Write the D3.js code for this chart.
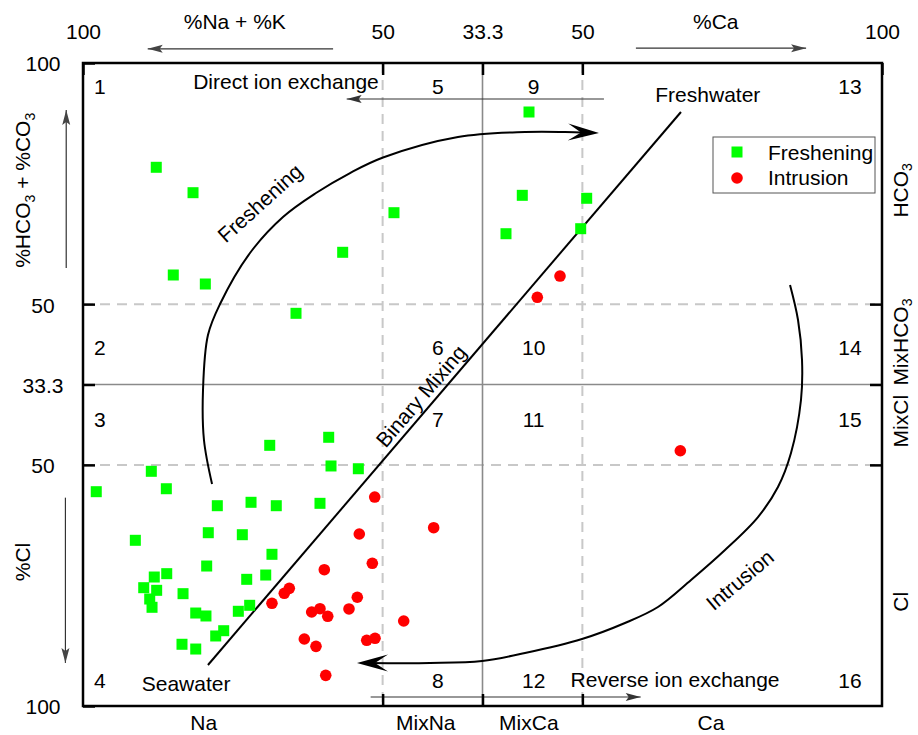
<!DOCTYPE html>
<html>
<head>
  <meta charset="UTF-8">
  <title>Hydrochemical facies evolution diagram</title>
  <script src="https://d3js.org/d3.v7.min.js"></script>
  <style>
    body { margin: 0; background: #fff; }
    svg { font-family: "Liberation Sans", Arial, sans-serif; font-size: 21px; }
    .grid-dash { stroke: #c8c8c8; stroke-width: 2; stroke-dasharray: 10,7; }
    .grid-solid { stroke: #8a8a8a; stroke-width: 1.6; }
    .axis .domain { display: none; }
    .axis line { stroke: #000; stroke-width: 2.5; }
    .axis text { font-size: 21px; fill: #000; font-family: "Liberation Sans", Arial, sans-serif; }
    .curve { fill: none; stroke: #000; stroke-width: 2; }
    .thin { stroke: #333; stroke-width: 1.2; fill: none; }
  </style>
</head>
<body>
  <svg width="918" height="735"></svg>

  <script>
    // diagram units: 0..100 on both axes, zone borders at 37.5 / 50 / 62.5
    const tickVals = [0, 37.5, 50, 62.5, 100];
    const topTickLabels = ["100", "50", "33.3", "50", "100"];
    const leftTickLabels = ["100", "50", "33.3", "50", "100"];
    const bottomCats = ["Na", "MixNa", "MixCa", "Ca"];
    const bottomCatAt = [15.1, 42.9, 55.8, 78.6];
    const rightCats = [["HCO", "3"], ["MixHCO", "3"], ["MixCl", ""], ["Cl", ""]];
    const rightCatAt = [80.2, 56.6, 44.3, 16.2];
    const zoneCol = [2.1, 44.4, 56.4, 96.0];
    const zoneRow = [96.3, 55.8, 44.5, 4.0];

    const freshening = [
      [9.17, 83.78], [13.77, 79.83], [11.30, 67.03], [15.31, 65.63], [32.50, 70.56],
      [38.92, 76.72], [26.66, 61.07], [30.75, 41.79], [23.37, 40.54], [31.04, 37.33],
      [34.46, 36.90], [8.55, 36.50], [1.66, 33.33], [10.43, 33.79], [16.81, 31.15],
      [21.03, 31.68], [24.19, 31.15], [29.66, 31.52], [6.55, 25.77], [15.68, 26.95],
      [19.94, 26.64], [23.65, 23.59], [15.48, 21.77], [8.92, 20.06], [10.48, 20.58],
      [22.87, 20.37], [20.49, 19.70], [7.60, 18.40], [9.22, 17.99], [8.35, 16.64],
      [8.64, 15.35], [12.52, 17.47], [14.11, 14.46], [15.39, 14.00], [19.44, 14.73],
      [20.86, 15.66], [17.61, 11.71], [16.61, 10.89], [12.39, 9.60], [14.11, 8.86],
      [55.82, 92.38], [54.98, 79.42], [63.04, 78.96], [52.94, 73.45], [62.29, 74.23]
    ];
    const intrusion = [
      [36.51, 32.50], [34.58, 26.75], [36.21, 22.19], [30.20, 21.20], [25.82, 18.30],
      [25.19, 17.53], [23.65, 15.97], [28.62, 14.62], [29.66, 15.13], [30.63, 13.95],
      [33.29, 15.09], [34.33, 16.91], [27.70, 10.42], [29.16, 9.28], [35.51, 10.22],
      [36.55, 10.53], [30.38, 4.77], [43.89, 27.73], [40.14, 13.22], [59.70, 66.87],
      [56.86, 63.56], [74.76, 39.70]
    ];

    const mixingLine = [[15.64, 6.38], [74.84, 92.38]];
    const fresheningPath = [
      [16.15, 34.53], [15.14, 41.37], [15.02, 49.14], [15.64, 57.70], [17.15, 62.52],
      [20.90, 70.45], [25.03, 76.05], [29.16, 79.78], [33.42, 82.89], [37.55, 85.30],
      [46.93, 88.49], [55.32, 89.27], [60.33, 89.27], [64.58, 89.11]
    ];
    const intrusionPath = [
      [88.49, 65.47], [89.49, 60.03], [89.99, 53.81], [89.86, 47.59], [88.61, 39.35],
      [86.98, 34.06], [84.48, 29.39], [80.35, 24.26], [76.10, 19.60], [71.96, 15.40],
      [67.83, 12.91], [62.45, 10.42], [55.32, 8.24], [49.94, 7.00], [43.43, 6.69],
      [34.29, 6.69]
    ];
    const directArrow = [[65.2, 94.4], [33.0, 94.4]];
    const reverseArrow = [[36.0, 1.4], [69.8, 1.4]];

    const svg = d3.select("svg");
    const margin = { top: 63, right: 36, bottom: 29, left: 83 };
    const width = +svg.attr("width") - margin.left - margin.right;
    const height = +svg.attr("height") - margin.top - margin.bottom;

    const x = d3.scaleLinear().domain([0, 100]).range([0, width]);
    const y = d3.scaleLinear().domain([0, 100]).range([height, 0]);

    const g = svg.append("g")
      .attr("transform", `translate(${margin.left},${margin.top})`);

    // zone grid
    [37.5, 62.5].forEach(v => {
      g.append("line").attr("class", "grid-dash")
        .attr("x1", x(v)).attr("x2", x(v)).attr("y1", 0).attr("y2", height);
      g.append("line").attr("class", "grid-dash")
        .attr("x1", 0).attr("x2", width).attr("y1", y(v)).attr("y2", y(v));
    });
    g.append("line").attr("class", "grid-solid")
      .attr("x1", x(50)).attr("x2", x(50)).attr("y1", 0).attr("y2", height);
    g.append("line").attr("class", "grid-solid")
      .attr("x1", 0).attr("x2", width).attr("y1", y(50)).attr("y2", y(50));

    function head(px, py, ang, len, hw, notch, color) {
      g.append("path")
        .attr("d", `M0,0L${-len},${-hw}L${-len + notch},0L${-len},${hw}Z`)
        .attr("fill", color)
        .attr("transform", `translate(${px},${py}) rotate(${ang})`);
    }
    function endAngle(pts) {
      const a = pts[pts.length - 2], b = pts[pts.length - 1];
      return Math.atan2(y(b[1]) - y(a[1]), x(b[0]) - x(a[0])) * 180 / Math.PI;
    }
    function thinArrow(pts, color) {
      g.append("line").attr("class", "thin").attr("stroke", color)
        .attr("x1", x(pts[0][0])).attr("y1", y(pts[0][1]))
        .attr("x2", x(pts[1][0])).attr("y2", y(pts[1][1]));
      const last = pts[1];
      head(x(last[0]), y(last[1]), endAngle(pts), 15, 4, 3, color);
    }

    const line = d3.line().x(d => x(d[0])).y(d => y(d[1]));

    g.append("path").attr("class", "curve").attr("d", line(mixingLine));
    [fresheningPath, intrusionPath].forEach(p => {
      // stop the stroke a little short of the tip so the head stays sharp
      const last = p[p.length - 1];
      const ang = endAngle(p);
      const rad = ang * Math.PI / 180;
      const sx = x(last[0]) - 12 * Math.cos(rad), sy = y(last[1]) - 12 * Math.sin(rad);
      const pts = p.slice(0, -1).map(d => [x(d[0]), y(d[1])]);
      pts.push([sx, sy]);
      g.append("path").attr("class", "curve")
        .attr("d", d3.line().curve(d3.curveCatmullRom.alpha(0.5))(pts));
      head(x(last[0]), y(last[1]), ang, 31, 8.5, 13, "#000");
    });

    thinArrow(directArrow, "#333");
    thinArrow(reverseArrow, "#333");

    // points
    g.selectAll(".fresh")
      .data(freshening)
      .enter()
      .append("rect")
      .attr("class", "fresh")
      .attr("x", d => x(d[0]) - 5.5)
      .attr("y", d => y(d[1]) - 5.5)
      .attr("width", 11)
      .attr("height", 11)
      .attr("fill", "#00ff00");

    g.selectAll(".intr")
      .data(intrusion)
      .enter()
      .append("circle")
      .attr("class", "intr")
      .attr("cx", d => x(d[0]))
      .attr("cy", d => y(d[1]))
      .attr("r", 5.8)
      .attr("fill", "#ff0000");

    // frame + axes
    g.append("rect")
      .attr("width", width).attr("height", height)
      .attr("fill", "none").attr("stroke", "#000").attr("stroke-width", 2.5);

    g.append("g").attr("class", "axis")
      .call(d3.axisTop(x).tickValues(tickVals)
        .tickFormat((d, i) => topTickLabels[i]).tickSize(-12).tickPadding(24));

    g.append("g").attr("class", "axis")
      .call(d3.axisLeft(y).tickValues(tickVals)
        .tickFormat((d, i) => leftTickLabels[i]).tickSize(-12).tickPadding(40))
      .selectAll("text").attr("text-anchor", "middle").attr("dy", "0.38em");

    g.append("g").attr("class", "axis")
      .attr("transform", `translate(0,${height})`)
      .call(d3.axisBottom(x).tickValues([37.5, 50, 62.5]).tickFormat("").tickSize(-12));

    g.append("g").attr("class", "axis")
      .attr("transform", `translate(${width},0)`)
      .call(d3.axisRight(y).tickValues([37.5, 50, 62.5]).tickFormat("").tickSize(-12));

    // facies labels
    g.selectAll(".bcat")
      .data(bottomCats)
      .enter()
      .append("text")
      .attr("class", "bcat")
      .attr("x", (d, i) => x(bottomCatAt[i]))
      .attr("y", y(-3.7))
      .attr("text-anchor", "middle")
      .text(d => d);

    rightCats.forEach((c, i) => {
      const t = g.append("text")
        .attr("transform", `translate(${x(103.3)},${y(rightCatAt[i])}) rotate(-90)`)
        .attr("text-anchor", "middle");
      t.append("tspan").text(c[0]);
      if (c[1]) t.append("tspan").attr("font-size", 14).attr("dy", 4).text(c[1]);
    });

    // zone numbers
    zoneCol.forEach((cx, ci) => {
      zoneRow.forEach((cy, ri) => {
        g.append("text")
          .attr("x", x(cx)).attr("y", y(cy))
          .attr("dy", "0.35em")
          .attr("text-anchor", "middle")
          .text(ci * 4 + ri + 1);
      });
    });

    // axis titles and arrows
    g.append("text").attr("x", x(19.0)).attr("y", y(105.3))
      .attr("text-anchor", "middle").text("%Na + %K");
    g.append("text").attr("x", x(79.2)).attr("y", y(105.3))
      .attr("text-anchor", "middle").text("%Ca");
    thinArrow([[31.3, 102.2], [8.1, 102.2]], "#444");
    thinArrow([[69.2, 102.3], [90.5, 102.3]], "#444");

    const yTitle = g.append("text")
      .attr("transform", `translate(${x(-6.6)},${y(80.2)}) rotate(-90)`)
      .attr("text-anchor", "middle");
    yTitle.append("tspan").text("%HCO");
    yTitle.append("tspan").attr("font-size", 14).attr("dy", 5).text("3");
    yTitle.append("tspan").attr("dy", -5).text(" + %CO");
    yTitle.append("tspan").attr("font-size", 14).attr("dy", 5).text("3");
    g.append("text")
      .attr("transform", `translate(${x(-6.6)},${y(22.4)}) rotate(-90)`)
      .attr("text-anchor", "middle").text("%Cl");
    thinArrow([[-2.1, 68.1], [-2.1, 92.7]], "#444");
    thinArrow([[-2.2, 32.4], [-2.2, 6.7]], "#444");

    // annotations
    g.append("text").attr("x", x(25.4)).attr("y", y(95.96))
      .attr("text-anchor", "middle").text("Direct ion exchange");
    g.append("text").attr("x", x(74.1)).attr("y", y(2.95))
      .attr("text-anchor", "middle").text("Reverse ion exchange");
    g.append("text").attr("x", x(12.9)).attr("y", y(2.33))
      .attr("text-anchor", "middle").text("Seawater");
    g.append("text").attr("x", x(78.2)).attr("y", y(93.93))
      .attr("text-anchor", "middle").text("Freshwater");

    const rotLabels = [
      { text: "Binary Mixing", at: [42.3, 48.2], ang: -49.5 },
      { text: "Freshening", at: [22.15, 78.2], ang: -42 },
      { text: "Intrusion", at: [82.2, 19.6], ang: -40 }
    ];
    rotLabels.forEach(l => {
      g.append("text")
        .attr("transform", `translate(${x(l.at[0])},${y(l.at[1])}) rotate(${l.ang})`)
        .attr("text-anchor", "middle")
        .attr("dy", "0.35em")
        .text(l.text);
    });

    // legend
    const legend = g.append("g").attr("transform", `translate(${width - 169},74)`);
    legend.append("rect")
      .attr("width", 162).attr("height", 56)
      .attr("fill", "#fff").attr("stroke", "#555").attr("stroke-width", 1);
    legend.append("rect")
      .attr("x", 24 - 5.5).attr("y", 15 - 5.5).attr("width", 11).attr("height", 11)
      .attr("fill", "#00ff00");
    legend.append("circle")
      .attr("cx", 24).attr("cy", 41).attr("r", 5.8).attr("fill", "#ff0000");
    legend.append("text").attr("x", 55).attr("y", 23).text("Freshening");
    legend.append("text").attr("x", 55).attr("y", 48).text("Intrusion");
  </script>
</body>
</html>
